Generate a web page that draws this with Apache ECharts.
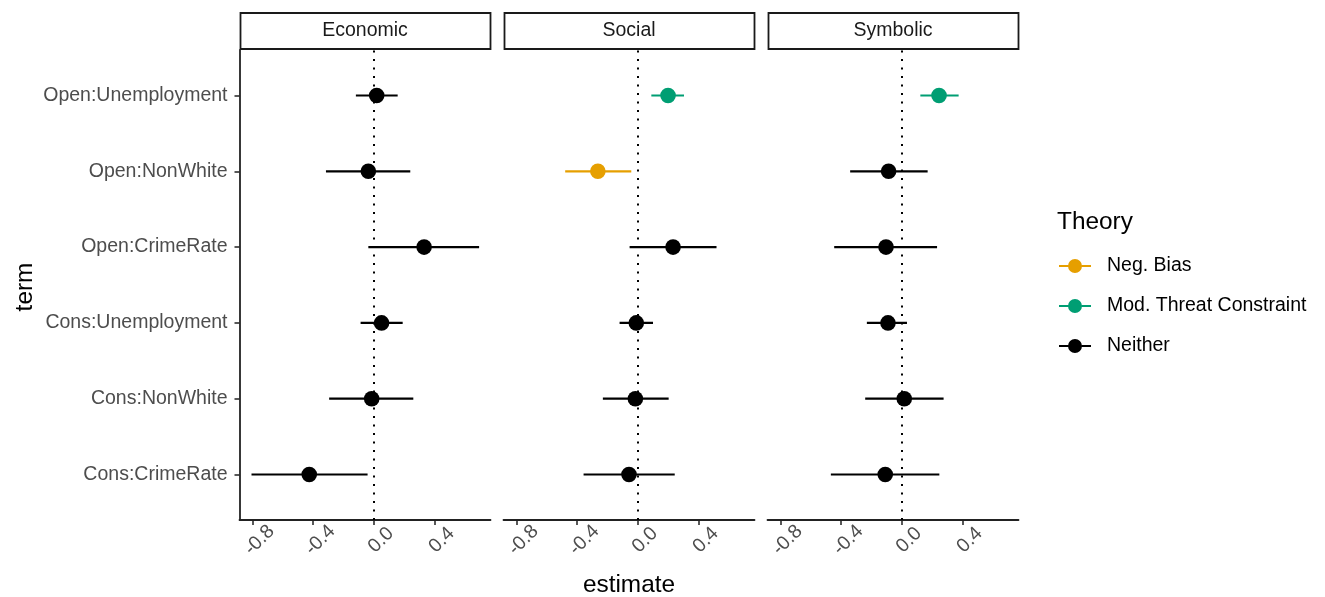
<!DOCTYPE html>
<html>
<head>
<meta charset="utf-8">
<script src="https://cdn.jsdelivr.net/npm/echarts@6/dist/echarts.min.js"></script>
<style>
html,body{margin:0;padding:0;background:#fff;}
#chart{width:1325px;height:597px;}
</style>
</head>
<body>
<div id="chart"></div>
<script>
// ---- data (rows listed bottom to top) ----
const terms = ['Cons:CrimeRate','Cons:NonWhite','Cons:Unemployment','Open:CrimeRate','Open:NonWhite','Open:Unemployment'];
const panels = ['Economic','Social','Symbolic'];
const theories = ['Neg. Bias','Mod. Threat Constraint','Neither'];
const xTicks = [-0.8,-0.4,0,0.4];

const economicEst  = [-0.426,-0.015, 0.050, 0.330,-0.037, 0.018];
const economicLow  = [-0.806,-0.295,-0.088,-0.037,-0.316,-0.119];
const economicHigh = [-0.042, 0.259, 0.189, 0.692, 0.239, 0.156];
const economicTheory = ['Neither','Neither','Neither','Neither','Neither','Neither'];

const socialEst  = [-0.059,-0.017,-0.011, 0.231,-0.264, 0.198];
const socialLow  = [-0.358,-0.231,-0.121,-0.055,-0.479, 0.088];
const socialHigh = [ 0.242, 0.202, 0.099, 0.517,-0.044, 0.303];
const socialTheory = ['Neither','Neither','Neither','Neither','Neg. Bias','Mod. Threat Constraint'];

const symbolicEst  = [-0.110, 0.015,-0.092,-0.105,-0.088, 0.244];
const symbolicLow  = [-0.468,-0.242,-0.231,-0.446,-0.341, 0.121];
const symbolicHigh = [ 0.246, 0.274, 0.033, 0.231, 0.169, 0.373];
const symbolicTheory = ['Neither','Neither','Neither','Neither','Neither','Mod. Threat Constraint'];

// ---- styling ----
const theoryColors = {'Neg. Bias':'#E69F00','Mod. Threat Constraint':'#009E73','Neither':'#000000'};
const FONT = 'Liberation Sans, Arial, Helvetica, sans-serif';
const panelData = [
  {est:economicEst, low:economicLow, high:economicHigh, th:economicTheory},
  {est:socialEst, low:socialLow, high:socialHigh, th:socialTheory},
  {est:symbolicEst, low:symbolicLow, high:symbolicHigh, th:symbolicTheory}
];
const gridLefts = [239.5, 503.5, 767.5];
const gridW = 251, gridTop = 50, gridH = 470;
const AX = '#222';

const grids = [], xAxes = [], yAxes = [], series = [], graphics = [];
panels.forEach((p, i) => {
  grids.push({left: gridLefts[i], top: gridTop, width: gridW, height: gridH, containLabel: false});
  xAxes.push({
    type:'value', gridIndex:i, min:-0.885, max:0.767,
    splitLine:{show:false},
    axisLine:{show:true, onZero:false, lineStyle:{color:AX, width:1.8}},
    axisTick:{show:true, length:5, customValues:xTicks, lineStyle:{color:AX, width:1.5}},
    axisLabel:{show:true, customValues:xTicks, rotate:45, margin:13, align:'center', verticalAlign:'top',
      color:'#4d4d4d', fontSize:19.5, fontFamily:FONT,
      formatter:v => v.toFixed(1)}
  });
  yAxes.push({
    type:'value', gridIndex:i, min:-0.6, max:5.6,
    splitLine:{show:false},
    axisLine:{show:i===0, onZero:false, lineStyle:{color:AX, width:1.8}},
    axisTick:{show:i===0, length:5, customValues:[0,1,2,3,4,5], lineStyle:{color:AX, width:1.5}},
    axisLabel:{show:i===0, customValues:[0,1,2,3,4,5], margin:12, color:'#4d4d4d', fontSize:19.5, fontFamily:FONT,
      formatter:v => terms[Math.round(v)]}
  });
  const d = panelData[i];
  theories.forEach((t, k) => {
    const data = [];
    terms.forEach((term, j) => {
      if (d.th[j] === t) data.push([d.est[j], d.low[j], d.high[j], terms.indexOf(term)]);
    });
    const s = {
      type:'custom', name:t, xAxisIndex:i, yAxisIndex:i,
      itemStyle:{color:theoryColors[t]},
      encode:{x:[0,1,2], y:3},
      data:data,
      renderItem:(params, api) => {
        const yv = api.value(3);
        const c = api.coord([api.value(0), yv]);
        const l = api.coord([api.value(1), yv]);
        const h = api.coord([api.value(2), yv]);
        const col = theoryColors[t];
        return {type:'group', children:[
          {type:'line', shape:{x1:l[0], y1:l[1], x2:h[0], y2:h[1]}, style:{stroke:col, lineWidth:2.2}},
          {type:'circle', shape:{cx:c[0], cy:c[1], r:7.8}, style:{fill:col}}
        ]};
      },
      z: 3
    };
    if (k === 0) {
      s.markLine = {silent:true, symbol:'none', label:{show:false},
        lineStyle:{color:'#000', width:2, type:[2,6.5]}, data:[{xAxis:0}], z:1};
    }
    series.push(s);
  });
  graphics.push({type:'rect', shape:{x:gridLefts[i]+1, y:13, width:gridW-1, height:36},
    style:{fill:'#fff', stroke:'#1a1a1a', lineWidth:1.8}});
  graphics.push({type:'text', x:gridLefts[i]+gridW/2, y:31,
    style:{text:p, fill:'#1a1a1a', font:'19.5px ' + FONT, align:'center', verticalAlign:'middle'}});
});

graphics.push({type:'text', x:25, y:287, rotation:Math.PI/2,
  style:{text:'term', fill:'#000', font:'24.4px ' + FONT, align:'center', verticalAlign:'middle'}});
graphics.push({type:'text', x:629, y:585,
  style:{text:'estimate', fill:'#000', font:'24.4px ' + FONT, align:'center', verticalAlign:'middle'}});
graphics.push({type:'text', x:1057, y:222,
  style:{text:'Theory', fill:'#000', font:'24.4px ' + FONT, align:'left', verticalAlign:'middle'}});

const legendIcon = 'path://M16,0.5A7,7 0 1,1 15.99,0.5Z M0,6.5H9.1V8.5H0Z M22.9,6.5H32V8.5H22.9Z';

const option = {
  backgroundColor:'#fff',
  animation:false,
  grid:grids, xAxis:xAxes, yAxis:yAxes, series:series,
  legend:{
    orient:'vertical', left:1059, top:256, padding:0, itemWidth:32, itemHeight:14, itemGap:20,
    data:theories.map(t => ({name:t, icon:legendIcon})),
    textStyle:{color:'#000', fontSize:19.5, fontFamily:FONT, padding:[0,0,0,11]},
    selectedMode:false
  },
  graphic:graphics
};
const chart = echarts.init(document.getElementById('chart'), null, {renderer:'canvas'});
chart.setOption(option);
</script>
</body>
</html>
